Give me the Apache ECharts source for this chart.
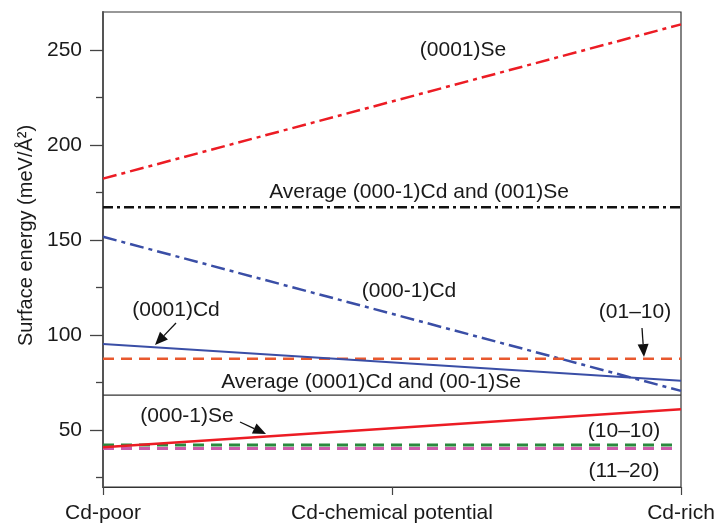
<!DOCTYPE html>
<html style="height: 100%">
<head>
<meta charset="utf-8">
<script src="https://cdn.jsdelivr.net/npm/echarts@6/dist/echarts.min.js"></script>
</head>
<body style="height: 100%; margin: 0">
<div id="main" style="width: 719px; height: 525px"></div>
<script type="text/javascript">
// x runs from Cd-poor (0) to Cd-rich (1)
var xEnds = [0, 1];
var xEndsShort = [0, 0.99];
var xTickValues = [0, 0.5, 1];
var xTickLabels = ['Cd-poor', 'Cd-chemical potential', 'Cd-rich'];
var yMajorTicks = [50, 100, 150, 200, 250];
var yMinorTicks = [25, 75, 125, 175, 225];

// surface energies (meV/A^2) at the two ends
var se0001 = [182.3, 263.5];      // (0001)Se
var avgCd0001mSe = [167.3, 167.3]; // Average (000-1)Cd and (001)Se
var cd0001m = [151.7, 70.6];      // (000-1)Cd
var cd0001 = [95.3, 75.9];        // (0001)Cd
var s0110 = [87.5, 87.5];         // (01-10)
var avgCd0001Se = [68.4, 68.4];   // Average (0001)Cd and (00-1)Se
var se0001m = [40.9, 60.9];       // (000-1)Se
var s1010 = [42.1, 42.1];         // (10-10)
var s1120 = [40.2, 40.2];         // (11-20)

var FONT = '"Liberation Sans", Arial, sans-serif';

function pairs(xs, ys) {
    return xs.map(function (x, i) { return [x, ys[i]]; });
}

function line(name, xs, ys, color, width, type) {
    return {
        name: name,
        type: 'line',
        data: pairs(xs, ys),
        showSymbol: false,
        silent: true,
        lineStyle: { color: color, width: width, type: type || 'solid' }
    };
}

function label(text, x, y) {
    return {
        type: 'text', x: x, y: y, z: 100,
        style: {
            text: text, fill: '#1a1a1a', font: '21px ' + FONT,
            align: 'center', verticalAlign: 'middle'
        }
    };
}

function arrow(x1, y1, x2, y2) {
    var dx = x2 - x1, dy = y2 - y1;
    var len = Math.sqrt(dx * dx + dy * dy);
    var ux = dx / len, uy = dy / len;
    var hl = 13, hw = 5.5;
    var bx = x2 - ux * hl, by = y2 - uy * hl;
    return [
        { type: 'polyline', z: 100, shape: { points: [[x1, y1], [bx, by]] },
          style: { stroke: '#111', lineWidth: 1.3 } },
        { type: 'polygon', z: 100,
          shape: { points: [[x2, y2], [bx - uy * hw, by + ux * hw], [bx + uy * hw, by - ux * hw]] },
          style: { fill: '#111' } }
    ];
}

var myChart = echarts.init(document.getElementById('main'));

var option = {
    animation: false,
    grid: {
        left: 103, right: 38, top: 12, bottom: 38,
        outerBoundsMode: 'none',
        show: true, borderColor: '#333', borderWidth: 1.2
    },
    xAxis: {
        type: 'value', min: 0, max: 1,
        splitLine: { show: false },
        axisLine: { lineStyle: { color: '#333', width: 1.2 } },
        axisTick: { customValues: xTickValues, length: 8, lineStyle: { color: '#444', width: 1.2 } },
        axisLabel: {
            customValues: xTickValues, margin: 16,
            color: '#1a1a1a', fontSize: 21, fontFamily: FONT,
            formatter: function (v) { return xTickLabels[xTickValues.indexOf(v)]; }
        }
    },
    yAxis: [{
        type: 'value', min: 20, max: 270,
        name: 'Surface energy (meV/Å²)',
        nameLocation: 'middle', nameGap: 67,
        nameTextStyle: { color: '#1a1a1a', fontSize: 20, fontFamily: FONT, padding: [0, 0, 0, 28] },
        splitLine: { show: false },
        axisLine: { lineStyle: { color: '#555', width: 2 } },
        axisTick: { customValues: yMajorTicks, length: 13, lineStyle: { color: '#444', width: 1.3 } },
        axisLabel: { customValues: yMajorTicks, margin: 21, color: '#1a1a1a', fontSize: 21, fontFamily: FONT }
    }, {
        type: 'value', min: 20, max: 270, position: 'left',
        splitLine: { show: false },
        axisLine: { show: false },
        axisTick: { customValues: yMinorTicks, length: 7, lineStyle: { color: '#444', width: 1.3 } },
        axisLabel: { show: false }
    }],
    series: [
        line('(0001)Se', xEnds, se0001, '#ec1c24', 2.5, [14, 5, 4, 5]),
        line('Average (000-1)Cd and (001)Se', xEnds, avgCd0001mSe, '#111', 2.5, [10, 4, 3, 4]),
        line('(000-1)Cd', xEnds, cd0001m, '#3a4ea6', 2.5, [14, 5, 4, 5]),
        line('(01-10)', xEnds, s0110, '#e8582e', 2.5, [11, 7]),
        line('(0001)Cd', xEnds, cd0001, '#3a4ea6', 2),
        line('Average (0001)Cd and (00-1)Se', xEnds, avgCd0001Se, '#333', 1.2),
        line('(11-20)', xEndsShort, s1120, '#cc5aaa', 3, [11, 7]),
        line('(10-10)', xEndsShort, s1010, '#2a8a3e', 3, [11, 7]),
        line('(000-1)Se', xEnds, se0001m, '#ec1c24', 2.5)
    ],
    graphic: [
        label('(0001)Se', 463, 50),
        label('Average (000-1)Cd and (001)Se', 419, 192),
        label('(000-1)Cd', 409, 291),
        label('(0001)Cd', 176, 310),
        label('(01–10)', 635, 312),
        label('Average (0001)Cd and (00-1)Se', 371, 382),
        label('(000-1)Se', 187, 416),
        label('(10–10)', 624, 431),
        label('(11–20)', 624, 471)
    ].concat(arrow(176, 323, 155, 345))
     .concat(arrow(642, 328, 644, 357))
     .concat(arrow(240, 422, 266, 434))
};

myChart.setOption(option);
</script>
</body>
</html>
